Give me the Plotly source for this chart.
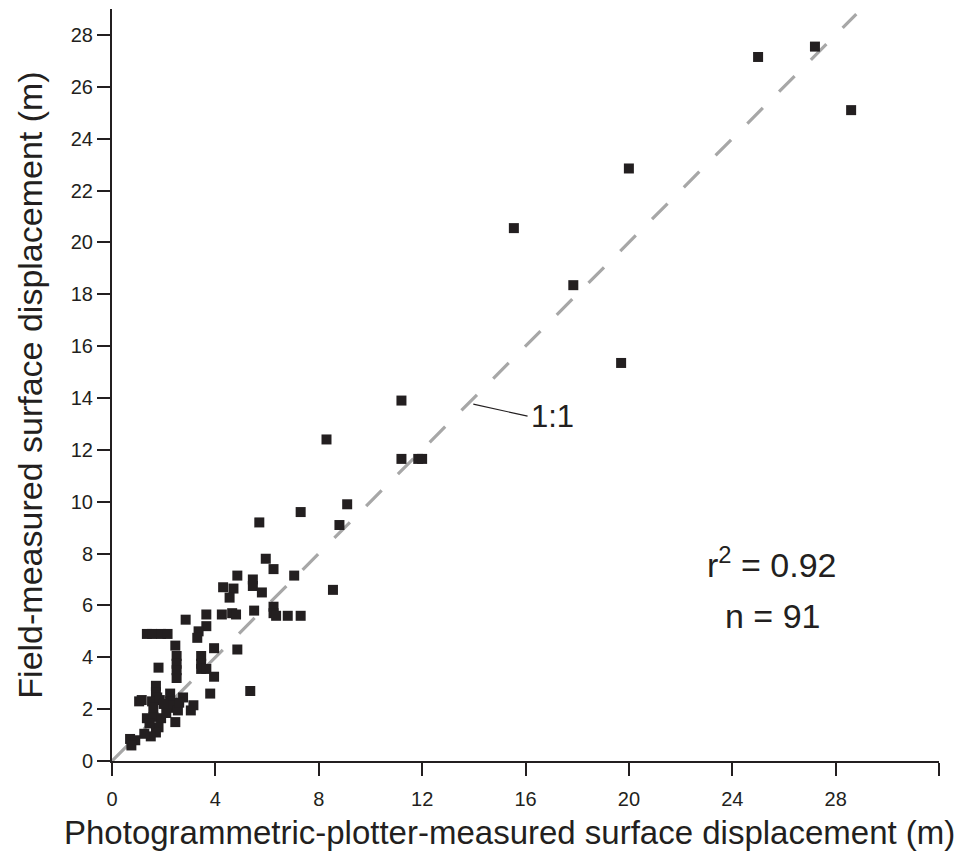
import plotly.graph_objects as go

# Photogrammetric-plotter-measured displacement (m)
photo_x = [
    25.0, 27.2, 28.6, 20.0, 15.55, 17.85, 19.7, 11.2, 11.2, 11.85,
    12.0, 8.3, 9.1, 7.3, 5.7, 8.8, 5.95, 6.25, 7.05, 4.85,
    5.45, 5.45, 4.3, 4.7, 5.8, 4.55, 8.55, 6.25, 5.5, 6.25,
    6.35, 6.8, 7.3, 4.25, 4.65, 4.8, 3.65, 2.85, 3.65, 3.35,
    3.3, 1.35, 1.55, 1.9, 2.15, 2.45, 3.95, 4.85, 2.5, 2.5,
    2.5, 2.5, 1.8, 3.45, 3.45, 3.45, 3.65, 3.95, 3.8, 5.35,
    1.7, 1.7, 1.75, 1.05, 1.55, 1.85, 2.25, 2.25, 2.25, 2.75,
    2.35, 2.55, 3.05, 3.15, 2.45, 1.35, 1.6, 1.9, 1.8, 1.7,
    1.5, 1.25, 0.7, 0.9, 0.75, 1.15, 2.0, 1.6, 2.1, 1.45,
    2.6,
]

# Field-measured displacement (m)
field_y = [
    27.15, 27.55, 25.1, 22.85, 20.55, 18.35, 15.35, 13.9, 11.65, 11.65,
    11.65, 12.4, 9.9, 9.6, 9.2, 9.1, 7.8, 7.4, 7.15, 7.15,
    7.0, 6.75, 6.7, 6.65, 6.5, 6.3, 6.6, 5.95, 5.8, 5.7,
    5.6, 5.6, 5.6, 5.65, 5.7, 5.65, 5.65, 5.45, 5.2, 5.0,
    4.75, 4.9, 4.9, 4.9, 4.9, 4.45, 4.35, 4.3, 4.05, 3.75,
    3.5, 3.2, 3.6, 4.05, 3.75, 3.55, 3.55, 3.25, 2.6, 2.7,
    2.9, 2.65, 2.45, 2.3, 2.3, 2.35, 2.6, 2.3, 2.05, 2.45,
    2.15, 1.95, 1.95, 2.15, 1.5, 1.65, 1.7, 1.65, 1.3, 1.1,
    0.95, 1.05, 0.85, 0.8, 0.6, 2.35, 2.2, 2.05, 1.85, 1.45,
    2.25,
]

# 1:1 reference line
ref_line = [0, 28.8]

x_ticks = [0, 4, 8, 12, 16, 20, 24, 28, 32]
x_tick_text = ["0", "4", "8", "12", "16", "20", "24", "28", ""]
y_ticks = [0, 2, 4, 6, 8, 10, 12, 14, 16, 18, 20, 22, 24, 26, 28]

r_squared = 0.92
n_points = 91

INK = "#231f20"
FONT = "Liberation Sans, Arial, Helvetica, sans-serif"

fig = go.Figure()

fig.add_trace(go.Scatter(
    x=ref_line, y=ref_line, mode="lines",
    line=dict(color="#a7a7a7", width=3.2, dash="22px,23px"),
    hoverinfo="skip", showlegend=False,
))

fig.add_trace(go.Scatter(
    x=photo_x, y=field_y, mode="markers",
    marker=dict(symbol="square", size=10, color=INK, line=dict(width=0)),
    showlegend=False,
))

# leader line for the 1:1 label
fig.add_shape(type="line", xref="x", yref="y",
              x0=13.98, y0=13.76, x1=16.08, y1=13.30,
              line=dict(color=INK, width=1.2))

fig.add_annotation(x=16.15, y=13.30, xref="x", yref="y", text="1:1",
                   showarrow=False, xanchor="left", yanchor="middle",
                   font=dict(family=FONT, size=31, color=INK))
fig.add_annotation(x=25.55, y=7.67, xref="x", yref="y",
                   text=f"r<sup>2</sup> = {r_squared:.2f}",
                   showarrow=False, xanchor="center", yanchor="middle",
                   font=dict(family=FONT, size=34, color=INK))
fig.add_annotation(x=25.55, y=5.59, xref="x", yref="y",
                   text=f"n = {n_points}",
                   showarrow=False, xanchor="center", yanchor="middle",
                   font=dict(family=FONT, size=34, color=INK))

# x-axis title, centred slightly left of the plot area
fig.add_annotation(x=0.481, y=-0.0957, xref="paper", yref="paper",
                   text="Photogrammetric-plotter-measured surface displacement (m)",
                   showarrow=False, xanchor="center", yanchor="middle",
                   font=dict(family=FONT, size=33, color=INK))

axis_common = dict(
    showgrid=False, zeroline=False, showline=True,
    linecolor=INK, linewidth=2, ticks="outside", ticklen=13,
    tickwidth=2, tickcolor=INK,
    tickfont=dict(family=FONT, size=20, color=INK),
)

fig.update_layout(
    width=966, height=863,
    margin=dict(l=112, r=27, t=9, b=102),
    plot_bgcolor="white", paper_bgcolor="white",
    xaxis=dict(range=[0, 32], tickvals=x_ticks, ticktext=x_tick_text,
               ticklabelstandoff=6, **axis_common),
    yaxis=dict(range=[0, 29], tickvals=y_ticks,
               title=dict(text="Field-measured surface displacement (m)",
                          font=dict(family=FONT, size=34, color=INK), standoff=18),
               **axis_common),
)

fig.write_html("out.html")
